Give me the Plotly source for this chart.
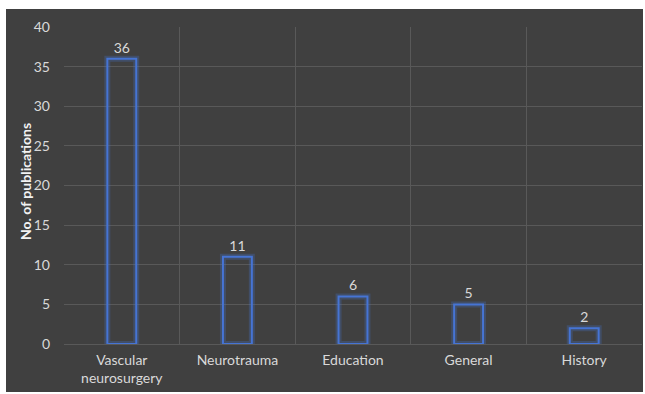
import plotly.graph_objects as go

categories = ["Vascular<br>neurosurgery", "Neurotrauma", "Education", "General", "History"]
publications = [36, 11, 6, 5, 2]
y_ticks = [0, 5, 10, 15, 20, 25, 30, 35, 40]
y_title = "No. of publications"

W, H = 645, 394
L, R, T, B = 64, 3, 27, 50
pw, ph = W - L - R, H - T - B

def px_x(p):
    return (p - L) / pw

def px_y(p):
    return (H - B - p) / ph

font_fam = "Lato, 'Noto Sans', sans-serif"
txt_col = "#d9d9d9"

fig = go.Figure()
# glow
fig.add_trace(go.Bar(
    x=categories, y=publications, width=0.25,
    marker=dict(color="rgba(0,0,0,0)", line=dict(color="rgba(68,114,196,0.3)", width=6)),
    hoverinfo="skip", showlegend=False,
))
fig.add_trace(go.Bar(
    x=categories, y=publications, width=0.25,
    marker=dict(color="rgba(0,0,0,0)", line=dict(color="#4674d4", width=2)),
    text=[str(v) for v in publications], textposition="outside",
    textfont=dict(color=txt_col, size=14, family=font_fam),
    cliponaxis=False, showlegend=False,
))

fig.add_shape(type="rect", xref="paper", yref="paper",
              x0=px_x(6), x1=px_x(643), y0=px_y(392), y1=px_y(9),
              fillcolor="#404040", line=dict(width=0), layer="below")

fig.add_annotation(text=f"<b>{y_title}</b>", textangle=-90, xref="paper", yref="paper",
                   x=px_x(25), y=px_y(181), showarrow=False,
                   xanchor="center", yanchor="middle",
                   font=dict(size=14, color="#f2f2f2", family=font_fam))

fig.update_layout(
    width=W, height=H,
    margin=dict(l=L, r=R, t=T, b=B),
    paper_bgcolor="white",
    plot_bgcolor="rgba(0,0,0,0)",
    barmode="overlay",
    font=dict(family=font_fam, color=txt_col, size=14),
    xaxis=dict(
        type="category", tickson="boundaries", showgrid=True,
        gridcolor="#595959", gridwidth=1, ticks="", showline=False,
        ticklabelstandoff=6,
        tickfont=dict(size=14, color=txt_col, family=font_fam),
    ),
    yaxis=dict(
        range=[0, 40], tickvals=y_ticks, showgrid=True, gridcolor="#595959",
        gridwidth=1, zeroline=True, zerolinecolor="#595959", zerolinewidth=1,
        ticks="", ticklabelstandoff=13,
        tickfont=dict(size=14, color=txt_col, family=font_fam),
    ),
)

fig.write_html("out.html")
